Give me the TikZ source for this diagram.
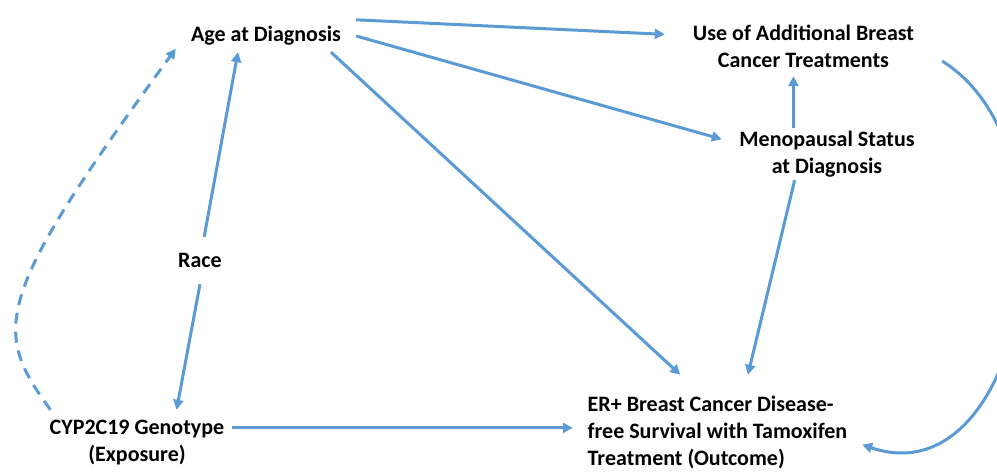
\documentclass[tikz,border=0pt]{standalone}
\usepackage{fontspec}
\setmainfont{Carlito}
\usetikzlibrary{arrows.meta}
\definecolor{dagblue}{HTML}{5B9BD5}

\begin{document}
\begin{tikzpicture}[
      x=1pt, y=-1pt,
      font=\bfseries\fontsize{22}{27}\selectfont,
      var/.style={align=center, inner sep=0pt},
      arrow/.style={-{Triangle[length=10pt, width=10pt]}, line width=3pt, draw=dagblue},
      unsure/.style={arrow, dash pattern=on 11pt off 8pt}
    ]
      \useasboundingbox (0,0) rectangle (997,472);
      \node[var, minimum width=180pt, minimum height=32pt] (age) at (266,36) {Age at Diagnosis};
      \node[var, minimum width=277pt, minimum height=59pt] (use) at (803.5,46.5) {Use of Additional Breast\\Cancer Treatments};
      \node[var, minimum width=210pt, minimum height=52pt] (meno) at (827,154) {Menopausal Status\\at Diagnosis};
      \node[var, minimum width=46pt, minimum height=47pt] (race) at (200,260.5) {Race};
      \node[var, minimum width=190pt, minimum height=66pt] (cyp) at (137,443) {CYP2C19 Genotype\\(Exposure)};
      \node[var, align=left, minimum width=289pt, minimum height=114pt] (er) at (717.5,432) {ER+ Breast Cancer Disease-\\free Survival with Tamoxifen\\Treatment (Outcome)};

      \draw[arrow] (age.north east) -- (use.175);
      \draw[arrow] (age.east) -- (meno.172);
      \draw[arrow] (age.-14) -- (er.123);
      \draw[arrow] (race.80) -- (age.-150);
      \draw[arrow] (race.south) -- (cyp.40);
      \draw[unsure] (cyp.159) .. controls (-8,330) and (-8,300) .. (age.188);
      \draw[arrow] (cyp.9) -- (cyp.9 -| er.west);
      \draw[arrow] (meno.142) -- (meno.142 |- use.south);
      \draw[arrow] (meno.-141) -- (er.62);
      \draw[arrow] (use.-6) .. controls (1085,150) and (1025,500) .. (er.-5);
    \end{tikzpicture}
\end{document}
